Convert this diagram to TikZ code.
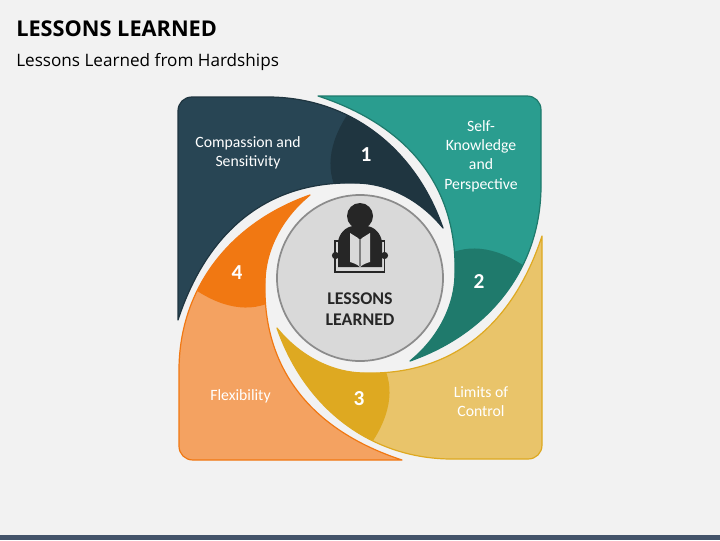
\documentclass[tikz,border=0pt]{standalone}
\usepackage{fontspec}
\setmainfont{Carlito}
\newfontfamily\headfont{Open Sans}
\definecolor{pagebg}{HTML}{F2F2F2}
\definecolor{barcol}{HTML}{44546A}
\definecolor{navyL}{HTML}{284554}
\definecolor{navyD}{HTML}{1F3540}
\definecolor{tealL}{HTML}{2A9D8F}
\definecolor{tealD}{HTML}{1F7A6C}
\definecolor{yelL}{HTML}{E9C46A}
\definecolor{yelD}{HTML}{DEA921}
\definecolor{oraL}{HTML}{F4A261}
\definecolor{oraD}{HTML}{F17812}
\definecolor{inkcol}{HTML}{262626}
\tikzset{
  x=0.75pt,y=-0.75pt,
  lab/.style={text=white,font=\fontsize{11.8pt}{14.4pt}\selectfont,align=center,inner sep=0pt},
  num/.style={text=white,font=\fontsize{16pt}{18pt}\selectfont\bfseries,inner sep=0pt},
}
\def\petal{(-182,42) -- (-182,-167) .. controls (-182,-175) and (-176,-181) .. (-168,-181) -- (-90,-181)
  .. controls (-10,-180) and (55,-130) .. (83,-50)
  .. controls (62,-76) and (30,-95) .. (-5,-95)
  .. controls (-85,-97) and (-150,-55) .. cycle}
\newcommand{\petalshape}[4]{%
  \begin{scope}[shift={(360,278)},rotate=#1]
    \begin{scope}
      \clip \petal;
      \fill[#2] (-200,-200) rectangle (200,200);
      \fill[#3] (-8,-170) .. controls (-30,-140) and (-36,-110) .. (-22,-85) -- (-22,-30) -- (130,-30) -- (130,-175) -- cycle;
    \end{scope}
    \draw[#4,line width=0.9pt,line join=round] \petal;
  \end{scope}}
\begin{document}
\begin{tikzpicture}
\fill[pagebg] (0,0) rectangle (720,540);
\useasboundingbox (0,0) rectangle (720,540);
\fill[barcol] (0,535) rectangle (720,540);
\node[anchor=west,inner sep=0pt,font=\headfont\fontsize{16.3pt}{20pt}\selectfont\bfseries] (title) at (16,29) {LESSONS LEARNED};
\node[anchor=west,inner sep=0pt,font=\headfont\fontsize{12.85pt}{15pt}\selectfont] (sub) at (16,61.5) {Lessons Learned from Hardships};

\petalshape{0}{navyL}{navyD}{navyD}
\petalshape{270}{tealL}{tealD}{tealD}
\petalshape{180}{yelL}{yelD}{yelD}
\petalshape{90}{oraL}{oraD}{oraD}

\node[circle,draw=black!45,line width=1.3pt,fill=black!15,minimum size=124.5pt,inner sep=0pt] (hub) at (360,278) {};

% icon
\fill[inkcol] (360,216) circle[radius=13];
\draw[inkcol,line width=0.9pt] (335,241) rectangle (384.5,272);
\fill[inkcol] (338,267) -- (338,242) .. controls (339,234) and (345,227) .. (353,226) -- (367,226)
  .. controls (375,227) and (381,234) .. (382,242) -- (382,267) -- cycle;
\fill[inkcol] (335.5,255.5) circle[radius=3.6];
\fill[inkcol] (384.5,255.5) circle[radius=3.6];
\fill[black!15] (350,233) -- (358,238) -- (360,240) -- (362,238) -- (370,233) -- (370,262) .. controls (366,263) and (362,265) .. (360,267) .. controls (358,265) and (354,263) .. (350,262) -- cycle;
\draw[black!50,line width=0.9pt] (360,240) -- (360,266);

\node[text=inkcol,font=\fontsize{13.4pt}{15.7pt}\selectfont\bfseries,align=center,inner sep=0pt] (hubtext) at (360,309.5) {LESSONS\\LEARNED};

\node[num] (n1) at (366,155) {1};
\node[num] (n2) at (479,281.5) {2};
\node[num] (n3) at (359,398.5) {3};
\node[num] (n4) at (237,272.5) {4};

\node[lab] (l1) at (248,152.5) {Compassion and\\Sensitivity};
\node[lab] (l2) at (481,156) {Self-\\Knowledge\\and\\Perspective};
\node[lab] (l3) at (481,402) {Limits of\\Control};
\node[lab] (l4) at (240.5,396) {Flexibility};
\end{tikzpicture}
\end{document}
